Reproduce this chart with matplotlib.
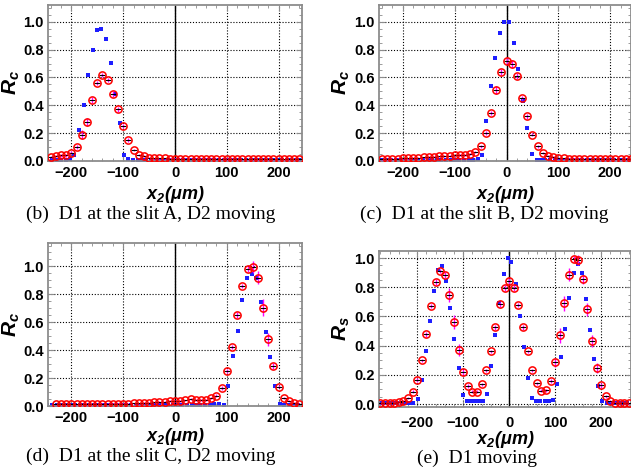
import matplotlib
matplotlib.use('Agg')
import matplotlib.pyplot as plt
from matplotlib.ticker import MultipleLocator, FuncFormatter

plt.rcParams['font.family'] = ['Liberation Sans', 'DejaVu Sans']
plt.rcParams['mathtext.fontset'] = 'custom'
plt.rcParams['mathtext.rm'] = 'Liberation Sans:italic:bold'
plt.rcParams['mathtext.it'] = 'Liberation Sans:italic:bold'
plt.rcParams['mathtext.bf'] = 'Liberation Sans:italic:bold'
plt.rcParams['axes.unicode_minus'] = True

# ---------------- data ----------------
# (b) D1 at slit A
b_red_x = [-240, -230, -220, -210, -200, -190, -180, -170, -160, -150, -140, -130, -120, -110, -100,
           -90, -80, -70, -60, -50, -40, -30, -20, -10, 0, 10, 20, 30, 40, 50, 60, 70, 80, 90, 100,
           110, 120, 130, 140, 150, 160, 170, 180, 190, 200, 210, 220, 230, 240]
b_red_y = [0.03, 0.035, 0.04, 0.04, 0.06, 0.10, 0.19, 0.28, 0.44, 0.56, 0.62, 0.58, 0.48, 0.37, 0.25,
           0.15, 0.08, 0.045, 0.035, 0.025, 0.02, 0.018, 0.018, 0.017, 0.017, 0.016, 0.016, 0.015, 0.015,
           0.015, 0.015, 0.015, 0.014, 0.014, 0.014, 0.014, 0.013, 0.013, 0.013, 0.013, 0.013, 0.012,
           0.012, 0.012, 0.012, 0.012, 0.012, 0.012, 0.012]
b_red_e = [0.008, 0.008, 0.008, 0.008, 0.01, 0.012, 0.03, 0.03, 0.02, 0.015, 0.015, 0.015, 0.02, 0.015,
           0.015, 0.012, 0.008, 0.008, 0.006, 0.005, 0.004, 0.004, 0.004, 0.004, 0.004, 0.004, 0.004,
           0.004, 0.004, 0.004, 0.004, 0.004, 0.004, 0.004, 0.004, 0.004, 0.004, 0.004, 0.004, 0.004,
           0.004, 0.004, 0.004, 0.004, 0.004, 0.004, 0.004, 0.004, 0.004]
b_blue_x = [-246, -237, -228, -220, -211, -202, -194, -185, -176, -168, -159, -150, -142, -133, -124,
            -115, -107, -98, -90, -81, -72, -63, -55, -46, -37, -29, -20, -11, -2, 6, 15, 24, 32, 41,
            50, 59, 67, 76, 85, 94, 102, 111, 120, 128, 137, 146, 155, 163, 172, 181, 190, 198, 207,
            216, 224, 233, 242]
b_blue_y = [0.005, 0.005, 0.005, 0.005, 0.006, 0.012, 0.045, 0.222, 0.40, 0.617, 0.797, 0.94, 0.945,
            0.873, 0.706, 0.478, 0.275, 0.043, 0.014, 0.008, 0.005, 0.005, 0.005, 0.005, 0.005, 0.005,
            0.005, 0.005, 0.005, 0.005, 0.005, 0.005, 0.005, 0.005, 0.005, 0.005, 0.005, 0.005, 0.005,
            0.005, 0.005, 0.005, 0.005, 0.005, 0.005, 0.005, 0.005, 0.005, 0.005, 0.005, 0.005, 0.005,
            0.005, 0.005, 0.005, 0.005, 0.005]

# (c) D1 at slit B
c_red_x = [-240, -230, -220, -210, -200, -190, -180, -170, -160, -150, -140, -130, -120, -110, -100,
           -90, -80, -70, -60, -50, -40, -30, -20, -10, 0, 10, 20, 30, 40, 50, 60, 70, 80, 90, 100,
           110, 120, 130, 140, 150, 160, 170, 180, 190, 200, 210, 220, 230, 240]
c_red_y = [0.012, 0.013, 0.014, 0.016, 0.018, 0.02, 0.022, 0.025, 0.027, 0.03, 0.032, 0.033, 0.035,
           0.037, 0.04, 0.042, 0.045, 0.05, 0.065, 0.105, 0.20, 0.345, 0.51, 0.64, 0.72, 0.695, 0.61,
           0.455, 0.32, 0.19, 0.105, 0.06, 0.037, 0.028, 0.022, 0.018, 0.016, 0.015, 0.015, 0.014,
           0.014, 0.013, 0.013, 0.013, 0.012, 0.012, 0.012, 0.012, 0.012]
c_red_e = [0.004, 0.004, 0.004, 0.004, 0.004, 0.004, 0.004, 0.005, 0.005, 0.005, 0.005, 0.005, 0.005,
           0.005, 0.006, 0.006, 0.006, 0.007, 0.008, 0.01, 0.012, 0.015, 0.03, 0.02, 0.025, 0.03, 0.02,
           0.015, 0.02, 0.012, 0.01, 0.008, 0.006, 0.005, 0.005, 0.004, 0.004, 0.004, 0.004, 0.004,
           0.004, 0.004, 0.004, 0.004, 0.004, 0.004, 0.004, 0.004, 0.004]
c_blue_x = [-249, -240, -231, -223, -214, -205, -196, -187, -179, -170, -161, -152, -144, -135, -126,
            -117, -108, -100, -91, -82, -73, -65, -56, -48, -39, -30, -22, -13, -4, 5, 14, 23, 31, 40,
            49, 58, 67, 75, 84, 93, 102, 111, 119, 128, 137, 146, 155, 163, 172, 181, 190, 199, 207,
            216, 225, 234]
c_blue_y = [0.005, 0.005, 0.005, 0.005, 0.005, 0.005, 0.005, 0.005, 0.005, 0.005, 0.005, 0.005, 0.005,
            0.005, 0.005, 0.005, 0.005, 0.005, 0.005, 0.006, 0.006, 0.008, 0.012, 0.04, 0.29, 0.54,
            0.74, 0.92, 1.0, 1.0, 0.85, 0.66, 0.43, 0.24, 0.05, 0.005, 0.005, 0.005, 0.005, 0.005,
            0.005, 0.005, 0.005, 0.005, 0.005, 0.005, 0.005, 0.005, 0.005, 0.005, 0.005, 0.005, 0.005,
            0.005, 0.005, 0.005]

# (d) D1 at slit C
d_red_x = [-230, -220, -210, -200, -190, -180, -170, -160, -150, -140, -130, -120, -110, -100, -90,
           -80, -70, -60, -50, -40, -30, -20, -10, 0, 10, 20, 30, 40, 50, 60, 70, 80, 90, 100, 110,
           120, 130, 140, 150, 160, 170, 180, 190, 200, 210, 220, 230, 240]
d_red_y = [0.012, 0.012, 0.012, 0.012, 0.012, 0.013, 0.013, 0.013, 0.013, 0.014, 0.014, 0.015, 0.015,
           0.016, 0.017, 0.018, 0.02, 0.022, 0.025, 0.027, 0.03, 0.032, 0.034, 0.036, 0.037, 0.04,
           0.047, 0.046, 0.043, 0.045, 0.055, 0.075, 0.13, 0.25, 0.425, 0.65, 0.86, 0.98, 0.995, 0.92,
           0.705, 0.478, 0.285, 0.138, 0.06, 0.036, 0.024, 0.015]
d_red_e = [0.004, 0.004, 0.004, 0.004, 0.004, 0.004, 0.004, 0.004, 0.004, 0.004, 0.004, 0.004, 0.004,
           0.004, 0.004, 0.004, 0.005, 0.005, 0.005, 0.005, 0.006, 0.006, 0.006, 0.006, 0.006, 0.006,
           0.007, 0.007, 0.007, 0.007, 0.008, 0.01, 0.012, 0.015, 0.015, 0.02, 0.015, 0.02, 0.045,
           0.045, 0.06, 0.045, 0.02, 0.012, 0.008, 0.006, 0.005, 0.004]
d_blue_x = [-246, -237, -228, -219, -210, -201, -193, -184, -175, -166, -157, -148, -139, -130, -121,
            -112, -103, -94, -85, -76, -67, -58, -49, -40, -31, -22, -13, -4, 5, 14, 23, 32, 40, 49,
            58, 67, 76, 85, 94, 103, 112, 121, 130, 139, 148, 157, 166, 175, 184, 193, 202, 211, 220,
            229, 238, 246]
d_blue_y = [0.005, 0.005, 0.005, 0.005, 0.005, 0.005, 0.005, 0.005, 0.005, 0.005, 0.005, 0.005, 0.005,
            0.005, 0.005, 0.005, 0.005, 0.005, 0.005, 0.005, 0.005, 0.005, 0.005, 0.005, 0.005, 0.005,
            0.005, 0.005, 0.005, 0.005, 0.005, 0.005, 0.005, 0.005, 0.008, 0.01, 0.015, 0.012, 0.01,
            0.145, 0.36, 0.537, 0.758, 0.918, 0.947, 0.916, 0.748, 0.532, 0.35, 0.144, 0.012, 0.008,
            0.005, 0.005, 0.005, 0.005]

# (e) D1 moving
e_red_x = [-280, -270, -260, -250, -240, -230, -220, -210, -200, -190, -180, -170, -160, -150, -140,
           -130, -120, -110, -100, -90, -80, -70, -60, -50, -40, -30, -20, -10, 0, 10, 20, 30, 40, 50,
           60, 70, 80, 90, 100, 110, 120, 130, 140, 150, 160, 170, 180, 190, 200, 210, 220, 230, 240,
           250, 260]
e_red_y = [0.005, 0.005, 0.005, 0.007, 0.014, 0.02, 0.04, 0.083, 0.165, 0.30, 0.477, 0.672, 0.833,
           0.91, 0.885, 0.748, 0.562, 0.37, 0.222, 0.124, 0.083, 0.085, 0.135, 0.23, 0.36, 0.525,
           0.683, 0.796, 0.84, 0.796, 0.68, 0.525, 0.36, 0.23, 0.142, 0.092, 0.096, 0.16, 0.287, 0.47,
           0.69, 0.885, 0.995, 0.984, 0.853, 0.65, 0.43, 0.248, 0.128, 0.055, 0.023, 0.009, 0.005,
           0.005, 0.005]
e_red_e = [0.004, 0.004, 0.004, 0.004, 0.005, 0.006, 0.008, 0.01, 0.012, 0.012, 0.015, 0.015, 0.02,
           0.015, 0.02, 0.05, 0.05, 0.04, 0.02, 0.012, 0.01, 0.01, 0.012, 0.012, 0.012, 0.015, 0.015,
           0.02, 0.02, 0.025, 0.015, 0.015, 0.012, 0.012, 0.01, 0.01, 0.01, 0.015, 0.03, 0.05, 0.05,
           0.045, 0.02, 0.035, 0.03, 0.045, 0.04, 0.035, 0.015, 0.01, 0.006, 0.004, 0.004, 0.004, 0.004]
e_blue_x = [-279, -270, -261, -252, -243, -234, -225, -216, -208, -199, -190, -181, -172, -164, -155,
            -146, -137, -128, -119, -110, -101, -92, -83, -74, -65, -57, -48, -39, -30, -21, -12, -3,
            5, 14, 23, 32, 41, 50, 59, 68, 77, 86, 95, 104, 113, 122, 131, 140, 149, 158, 167, 176,
            185, 194, 203, 212, 221, 230, 239, 248, 257]
e_blue_y = [0.005, 0.005, 0.005, 0.005, 0.005, 0.005, 0.006, 0.01, 0.01, 0.037, 0.167, 0.36, 0.57,
            0.773, 0.917, 0.945, 0.845, 0.655, 0.445, 0.245, 0.065, 0.02, 0.02, 0.02, 0.02, 0.02, 0.07,
            0.26, 0.47, 0.69, 0.89, 1.0, 0.972, 0.823, 0.605, 0.388, 0.18, 0.04, 0.02, 0.02, 0.02, 0.02,
            0.03, 0.14, 0.32, 0.516, 0.725, 0.897, 0.96, 0.895, 0.716, 0.505, 0.307, 0.124, 0.02, 0.01,
            0.008, 0.005, 0.005, 0.005, 0.005]

x_ticks = [-200, -100, 0, 100, 200]
y_ticks = [0.0, 0.2, 0.4, 0.6, 0.8, 1.0]
captions = ['(b)  D1 at the slit A, D2 moving', '(c)  D1 at the slit B, D2 moving',
            '(d)  D1 at the slit C, D2 moving', '(e)  D1 moving']

# ---------------- figure ----------------
W, H = 631, 472
fig = plt.figure(figsize=(W / 100, H / 100), dpi=100)


def add_ax(l, t, r, b):
    return fig.add_axes([l / W, 1 - b / H, (r - l) / W, (b - t) / H])


def draw(ax, rx, ry, re, bx, by, xlim, ylim, ylabel, xpad, xlab_y, ylab_x):
    ax.set_xlim(xlim)
    ax.set_ylim(ylim)
    ax.set_xticks(x_ticks)
    ax.set_yticks(y_ticks)
    ax.xaxis.set_minor_locator(MultipleLocator(20))
    ax.yaxis.set_minor_locator(MultipleLocator(0.05))
    ax.yaxis.set_major_formatter(FuncFormatter(lambda v, p: f'{v:.1f}'))
    ax.grid(True, which='major', color='black', linestyle=(0, (1, 1.6)), linewidth=0.8)
    ax.set_axisbelow(True)
    ax.axvline(0, color='black', lw=1.0, zorder=1.5)
    ax.plot(bx, by, 's', color='#1e1eff', ms=2.7, mew=0, zorder=2)
    ax.errorbar(rx, ry, yerr=re, fmt='none', ecolor='#ff00ff', elinewidth=1.0, capsize=0, zorder=3)
    ax.plot(rx, ry, '_', color='black', ms=4.2, mew=0.8, zorder=4)
    ax.plot(rx, ry, 'o', mfc='none', mec='#ff0000', ms=5.2, mew=1.1, zorder=5)
    for s in ax.spines.values():
        s.set_color('#8c8c8c')
        s.set_linewidth(1.3)
    ax.tick_params(which='both', direction='in', top=True, right=True, color='#8c8c8c')
    ax.tick_params(which='major', length=4, width=0.8)
    ax.tick_params(which='minor', length=2, width=0.6)
    ax.tick_params(axis='x', pad=xpad)
    ax.tick_params(axis='y', pad=3)
    for lab in ax.get_xticklabels() + ax.get_yticklabels():
        lab.set_fontweight('bold')
        lab.set_fontsize(10.5)
    ax.set_ylabel(ylabel, fontsize=15)
    ax.yaxis.set_label_coords(ylab_x, 0.5)
    ax.set_xlabel(r'$x_2(\mu m)$', fontsize=13)
    ax.xaxis.set_label_coords(0.5, xlab_y)


ax_b = add_ax(48, 5, 302, 161)
draw(ax_b, b_red_x, b_red_y, b_red_e, b_blue_x, b_blue_y, (-245, 245), (0, 1.12), r'$R_c$',
     3.5, -0.150, -0.102)

ax_c = add_ax(379, 5, 631, 161)
draw(ax_c, c_red_x, c_red_y, c_red_e, c_blue_x, c_blue_y, (-246, 240), (0, 1.12), r'$R_c$',
     3.5, -0.150, -0.107)

ax_d = add_ax(48, 243, 302, 406)
draw(ax_d, d_red_x, d_red_y, d_red_e, d_blue_x, d_blue_y, (-245, 245), (0, 1.168), r'$R_c$',
     3.5, -0.125, -0.102)

ax_e = add_ax(379, 251, 631, 407)
draw(ax_e, e_red_x, e_red_y, e_red_e, e_blue_x, e_blue_y, (-283, 265), (-0.02, 1.048), r'$R_s$',
     6.5, -0.138, -0.108)

cap_pos = [(151, 214), (484, 214), (151, 456), (477, 458)]
for txt, (cx, cy) in zip(captions, cap_pos):
    fig.text(cx / W, 1 - cy / H, txt, ha='center', va='center', fontsize=14,
             family=['Liberation Serif', 'DejaVu Serif'])

fig.savefig('out.png', dpi=100)
